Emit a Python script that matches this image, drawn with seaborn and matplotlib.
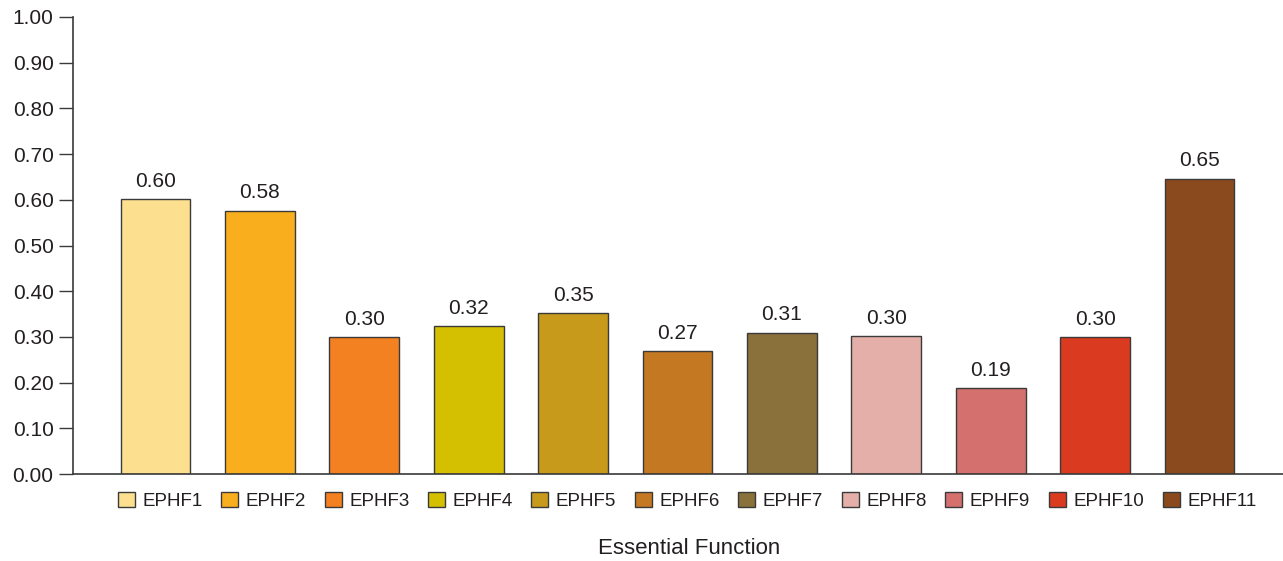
import matplotlib
matplotlib.use('Agg')
import matplotlib.pyplot as plt
import seaborn as sns
import pandas as pd

functions = ['EPHF1', 'EPHF2', 'EPHF3', 'EPHF4', 'EPHF5', 'EPHF6',
             'EPHF7', 'EPHF8', 'EPHF9', 'EPHF10', 'EPHF11']
scores = [0.602, 0.576, 0.300, 0.324, 0.352, 0.269,
          0.309, 0.301, 0.188, 0.299, 0.646]
colors = ['#FDE08F', '#F9AE1D', '#F38121', '#D4C000', '#C79A1C', '#C47821',
          '#8A703B', '#E3AFA8', '#D4716E', '#DA3A20', '#8B4A1D']
yticks = [0.0, 0.1, 0.2, 0.3, 0.4, 0.5, 0.6, 0.7, 0.8, 0.9, 1.0]

data = pd.DataFrame({'function': functions, 'score': scores})

sns.set_style('white')
plt.rcParams['font.family'] = ['Liberation Sans', 'DejaVu Sans']

fig = plt.figure(figsize=(12.83, 5.61), dpi=100)
ax = fig.add_axes([73 / 1283, 1 - 474 / 561, 1 - 73 / 1283, 457 / 561])

sns.barplot(data=data, x='function', y='score', hue='function',
            palette=colors, saturation=1, dodge=False, width=0.67,
            edgecolor='#3a3a3a', linewidth=1, legend=True, ax=ax)

# value labels on top of bars
for c in ax.containers:
    ax.bar_label(c, fmt='%.2f', padding=6, fontsize=15, color='#231f20')

ax.set_xlim(-0.79, 10.8)
ax.set_ylim(0, 1.0)
ax.set_yticks(yticks)
ax.set_yticklabels([f'{t:.2f}' for t in yticks])
ax.tick_params(axis='y', length=10, width=1, color='#3a3a3a', labelsize=15,
               labelcolor='#231f20', pad=4, left=True)
ax.set_xticks([])
ax.set_ylabel('')
for s in ['top', 'right']:
    ax.spines[s].set_visible(False)
for s in ['left', 'bottom']:
    ax.spines[s].set_color('#3a3a3a')
    ax.spines[s].set_linewidth(1.2)

ax.set_xlabel('Essential Function', fontsize=16, color='#231f20')
ax.xaxis.set_label_coords(0.509, -0.14)

# legend in one row below the bars
ax.legend_.remove()
handles = [plt.Rectangle((0, 0), 1, 1, facecolor=col, edgecolor='#3a3a3a', linewidth=1)
           for col in colors]
fig.legend(handles, functions, loc='center', bbox_to_anchor=(0.5355, 1 - 501 / 561),
           ncol=11, frameon=False, fontsize=13.5, handlelength=0.9, handleheight=0.9,
           handletextpad=0.4, columnspacing=1.0, labelcolor='#231f20')

fig.savefig('out.png', dpi=100)
